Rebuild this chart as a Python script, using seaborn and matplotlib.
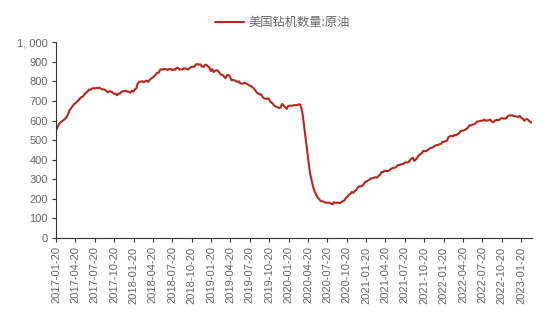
import matplotlib
matplotlib.use("Agg")
import matplotlib.pyplot as plt
import matplotlib.dates as mdates
import seaborn as sns
import pandas as pd

series_name = "美国钻机数量:原油"
start_date = "2017-01-20"

rigs_2017 = [551, 566, 583, 591, 597, 602, 609, 617, 631, 652, 662, 672, 683, 688, 697,
             703, 712, 720, 722, 733, 741, 747, 758, 756, 763, 765, 764, 766, 765, 768,
             763, 759, 759, 756, 749, 744, 750, 748, 743, 736, 737, 729, 738, 738, 747,
             749, 751, 752, 747, 747]
rigs_2018 = [742, 752, 747, 759, 765, 791, 798, 799, 800, 796, 800, 804, 797, 808, 815,
             820, 825, 834, 844, 844, 859, 861, 862, 863, 862, 858, 863, 863, 858, 861,
             859, 869, 869, 860, 862, 860, 867, 866, 863, 861, 869, 873, 875, 874, 886,
             888, 885, 887, 877, 873, 883, 885]
rigs_2019 = [877, 873, 852, 862, 847, 854, 857, 853, 843, 834, 833, 824, 816, 831, 833,
             825, 805, 807, 805, 802, 797, 800, 789, 788, 789, 793, 788, 784, 779, 776,
             770, 764, 754, 742, 738, 733, 733, 719, 713, 710, 712, 713, 696, 691, 684,
             674, 671, 668, 663, 667, 685, 677]
rigs_2020 = [670, 659, 673, 676, 675, 676, 678, 679, 678, 682, 683, 664, 624, 562, 504,
             438, 378, 325, 292, 258, 237, 222, 206, 199, 189, 188, 185, 181, 180, 181,
             180, 176, 172, 183, 180, 181, 180, 179, 183, 189, 193, 205, 211, 221, 226,
             236, 231, 241, 246, 258, 264, 264, 267]
rigs_2021 = [275, 287, 289, 295, 299, 306, 305, 309, 310, 309, 318, 324, 337, 337, 344,
             343, 342, 344, 352, 356, 359, 359, 365, 373, 372, 376, 378, 380, 387, 385,
             387, 397, 405, 410, 394, 401, 411, 421, 428, 433, 445, 443, 444, 450, 454,
             461, 461, 467, 471, 475, 475, 480]
rigs_2022 = [481, 492, 491, 495, 497, 516, 520, 522, 519, 527, 524, 531, 533, 546, 548,
             549, 552, 557, 563, 576, 574, 580, 580, 584, 594, 595, 597, 599, 599, 605,
             598, 601, 601, 605, 596, 591, 599, 602, 604, 602, 610, 612, 610, 610, 613,
             623, 627, 625, 627, 622, 621, 621]
rigs_2023 = [618, 623, 613, 609, 599, 607, 607, 600, 592, 590]

values = rigs_2017 + rigs_2018 + rigs_2019 + rigs_2020 + rigs_2021 + rigs_2022 + rigs_2023
dates = pd.date_range(start_date, periods=len(values), freq="W-FRI")
df = pd.DataFrame({"date": dates, series_name: values})

tick_dates = pd.date_range("2017-01-20", "2023-01-20", freq=pd.DateOffset(months=3))
y_ticks = [0, 100, 200, 300, 400, 500, 600, 700, 800, 900, 1000]

sns.set_style("ticks")
plt.rcParams["font.family"] = ["Liberation Sans", "Noto Sans CJK SC", "DejaVu Sans"]

fig = plt.figure(figsize=(5.5, 3.17), dpi=100)
ax = fig.add_axes([0.102, 0.249, 0.866, 0.618])

sns.lineplot(data=df, x="date", y=series_name, ax=ax, color="#B5281C",
             linewidth=1.5, label=series_name)

ax.set_xlim(dates[0], dates[-1] + pd.Timedelta(days=3))
ax.set_ylim(0, 1000)
ax.set_yticks(y_ticks)
ax.set_yticklabels([f"{v:,}".replace(",", ", ") for v in y_ticks])
ax.set_xticks(tick_dates)
ax.set_xticklabels([d.strftime("%Y-%m-%d") for d in tick_dates], rotation=90)
ax.set_xlabel("")
ax.set_ylabel("")

ax.tick_params(axis="both", direction="out", length=3, width=0.8, colors="#333333",
               labelsize=8, labelcolor="#666666", pad=3)
for s in ["top", "right"]:
    ax.spines[s].set_visible(False)
for s in ["left", "bottom"]:
    ax.spines[s].set_color("#333333")
    ax.spines[s].set_linewidth(0.8)

leg = ax.legend(loc="upper center", bbox_to_anchor=(0.475, 1.19), frameon=False,
                handlelength=2.4, handletextpad=0.3,
                prop={"family": ["Noto Sans CJK SC", "DejaVu Sans"], "size": 8.8})
for t in leg.get_texts():
    t.set_color("#666666")

fig.savefig("out.png", dpi=100, facecolor="white")
